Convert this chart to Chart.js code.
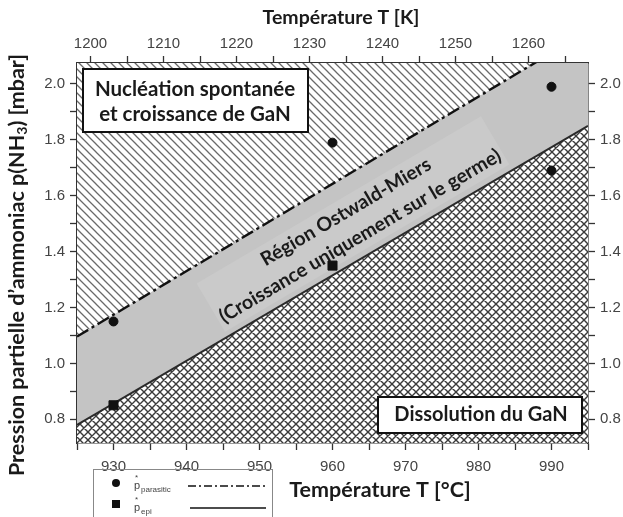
<!DOCTYPE html>
<html>
<head>
<meta charset="utf-8">
<script src="https://cdn.jsdelivr.net/npm/chart.js@4"></script>
<style>
  html, body { margin: 0; padding: 0; background: #fff; }
  #wrap { width: 623px; height: 517px; }
</style>
</head>
<body>
<div id="wrap"><canvas id="myChart" width="623" height="517"></canvas></div>
<script>
// data
const tempCircles = [930, 960, 990, 990]
const pCircles = [1.15, 1.79, 1.99, 1.69]
const tempSquares = [930, 960]
const pSquares = [0.85, 1.35]
const lineTemps = [925, 995]
const parasiticLine = [1.096, 2.189]
const epiLine = [0.78, 1.85]
const tempRange = [925, 995]
const pRange = [0.715, 2.075]
const kelvinTicks = [1200, 1205, 1210, 1215, 1220, 1225, 1230, 1235, 1240, 1245, 1250, 1255, 1260, 1265]
const KELVIN = 273.15

const TITLE_FONT = 'bold 21.5px Lato'
const TICK_FONT = { family: 'Liberation Sans', size: 15 }

function makePattern(cross){
  const s = 8
  const c = document.createElement('canvas')
  c.width = s; c.height = s
  const g = c.getContext('2d')
  g.fillStyle = '#fff'
  g.fillRect(0, 0, s, s)
  g.strokeStyle = cross ? '#3a3a3a' : '#6a6a6a'
  g.lineWidth = cross ? 1.4 : 1.3
  g.beginPath()
  g.moveTo(0, 0); g.lineTo(s, s)
  g.moveTo(-1, s - 1); g.lineTo(1, s + 1)
  g.moveTo(s - 1, -1); g.lineTo(s + 1, 1)
  if (cross){
    g.moveTo(s, 0); g.lineTo(0, s)
    g.moveTo(-1, 1); g.lineTo(1, -1)
    g.moveTo(s - 1, s + 1); g.lineTo(s + 1, s - 1)
  }
  g.stroke()
  return g.createPattern(c, 'repeat')
}

const toPoints = (xs, ys) => xs.map((x, i) => ({ x: x, y: ys[i] }))

function axisStyle(pos, size, pad, labelFn){
  return {
    type: 'linear',
    position: pos,
    ticks: {
      stepSize: pos === 'left' || pos === 'right' ? 0.1 : 5,
      includeBounds: false,
      autoSkip: false,
      maxRotation: 0,
      color: '#444',
      font: TICK_FONT,
      padding: pad,
      callback: labelFn
    },
    grid: { drawOnChartArea: false, drawTicks: true, tickLength: 7, tickColor: '#333', tickWidth: 1.3 },
    border: { color: '#333', width: 1.6 },
    afterFit: (scale) => {
      if (pos === 'left' || pos === 'right') scale.width = size
      else scale.height = size
    }
  }
}

const yLabel = v => Math.round(v * 10) % 2 === 0 ? v.toFixed(1) : ''

const decor = {
  id: 'decor',
  beforeDatasetsDraw(chart){
    const { ctx, chartArea: a } = chart
    ctx.save()
    ctx.fillStyle = '#c4c4c4'
    ctx.fillRect(a.left, a.top, a.right - a.left, a.bottom - a.top)

    // band labels
    ctx.translate(353, 224)
    ctx.rotate(-30.5 * Math.PI / 180)
    ctx.fillStyle = '#cacaca'
    ctx.fillRect(-165, -28, 330, 56)
    ctx.fillStyle = '#1a1a1a'
    ctx.font = 'bold 19.5px Lato'
    ctx.textAlign = 'center'
    ctx.textBaseline = 'middle'
    ctx.fillText('Région Ostwald-Miers', 0, -14)
    ctx.fillText('(Croissance uniquement sur le germe)', 0, 14)
    ctx.restore()
  },
  afterDatasetsDraw(chart){
    const ctx = chart.ctx
    ctx.save()

    // boxes
    ctx.lineWidth = 2
    ctx.strokeStyle = '#111'
    ctx.fillStyle = '#fff'
    ctx.fillRect(83, 69, 225, 63)
    ctx.strokeRect(83, 69, 225, 63)
    ctx.fillRect(378, 397, 204, 36)
    ctx.strokeRect(378, 397, 204, 36)
    ctx.fillStyle = '#1a1a1a'
    ctx.font = 'bold 20.5px Lato'
    ctx.textAlign = 'center'
    ctx.textBaseline = 'middle'
    ctx.fillText('Nucléation spontanée', 195, 89)
    ctx.fillText('et croissance de GaN', 195, 114)
    ctx.font = 'bold 20px Lato'
    ctx.fillText('Dissolution du GaN', 481, 415)

    // axis titles
    ctx.font = 'bold 19.5px Lato'
    ctx.fillText('Température T [K]', 341, 18)
    ctx.font = 'bold 21.5px Lato'
    ctx.fillText('Température T [°C]', 380, 490)

    ctx.save()
    ctx.translate(17, 265)
    ctx.rotate(-Math.PI / 2)
    ctx.textAlign = 'left'
    const partA = 'Pression partielle d’ammoniac p(NH'
    const partB = ') [mbar]'
    ctx.font = TITLE_FONT
    const wA = ctx.measureText(partA).width
    const wB = ctx.measureText(partB).width
    ctx.font = 'bold 14px Lato'
    const w3 = ctx.measureText('3').width
    let x0 = -(wA + w3 + wB) / 2
    ctx.font = TITLE_FONT
    ctx.fillText(partA, x0, 0)
    ctx.font = 'bold 14px Lato'
    ctx.fillText('3', x0 + wA, 5)
    ctx.font = TITLE_FONT
    ctx.fillText(partB, x0 + wA + w3, 0)
    ctx.restore()

    // legend
    ctx.lineWidth = 1
    ctx.strokeStyle = '#888'
    ctx.strokeRect(93.5, 469.5, 179, 60)
    ctx.fillStyle = '#111'
    ctx.beginPath()
    ctx.arc(116, 483, 4, 0, Math.PI * 2)
    ctx.fill()
    ctx.fillRect(112, 500, 8, 8)
    ctx.fillStyle = '#444'
    ctx.textAlign = 'left'
    ctx.font = '11px Liberation Sans'
    ctx.fillText('p', 134, 486)
    ctx.fillText('p', 134, 508)
    ctx.font = '8px Liberation Sans'
    ctx.fillText('*', 135, 478)
    ctx.fillText('*', 135, 500)
    ctx.fillText('parasitic', 141, 490)
    ctx.fillText('epi', 141, 512)
    ctx.strokeStyle = '#111'
    ctx.lineWidth = 1.6
    ctx.setLineDash([8, 3, 2, 3])
    ctx.beginPath(); ctx.moveTo(188, 486); ctx.lineTo(266, 486); ctx.stroke()
    ctx.setLineDash([])
    ctx.beginPath(); ctx.moveTo(190, 508); ctx.lineTo(266, 508); ctx.stroke()

    ctx.restore()
  }
}

const ctx = document.getElementById('myChart')

const xK = axisStyle('top', 63, 3, v => v % 10 === 0 ? v : '')
xK.min = tempRange[0] + KELVIN
xK.max = tempRange[1] + KELVIN
xK.afterBuildTicks = (scale) => { scale.ticks = kelvinTicks.map(v => ({ value: v })) }

new Chart(ctx, {
  data: {
    datasets: [
      {
        type: 'scatter',
        label: 'parasitic',
        order: 0,
        data: toPoints(tempCircles, pCircles),
        xAxisID: 'x', yAxisID: 'y',
        pointStyle: 'circle',
        pointRadius: 4.5,
        backgroundColor: '#111',
        borderColor: '#111'
      },
      {
        type: 'scatter',
        label: 'epi',
        order: 0,
        data: toPoints(tempSquares, pSquares),
        xAxisID: 'x', yAxisID: 'y',
        pointStyle: 'rect',
        pointRadius: 6.4,
        backgroundColor: '#111',
        borderColor: '#111'
      },
      {
        type: 'line',
        label: 'p* parasitic',
        order: 1,
        data: toPoints(lineTemps, parasiticLine),
        xAxisID: 'x', yAxisID: 'y',
        borderColor: '#111',
        borderWidth: 2.4,
        borderDash: [13, 4, 3, 4],
        pointRadius: 0,
        fill: 'end',
        backgroundColor: makePattern(false)
      },
      {
        type: 'line',
        label: 'p* epi',
        order: 2,
        data: toPoints(lineTemps, epiLine),
        xAxisID: 'x', yAxisID: 'y',
        borderColor: '#2a2a2a',
        borderWidth: 2,
        pointRadius: 0,
        fill: 'start',
        backgroundColor: makePattern(true)
      }
    ]
  },
  options: {
    responsive: false,
    animation: false,
    layout: { padding: 0 },
    plugins: { legend: { display: false }, tooltip: { enabled: false } },
    scales: {
      x: Object.assign(axisStyle('bottom', 74, 8, v => v % 10 === 0 ? v : ''), { min: tempRange[0], max: tempRange[1] }),
      xK: xK,
      y: Object.assign(axisStyle('left', 77, 5, yLabel), { min: pRange[0], max: pRange[1] }),
      y2: Object.assign(axisStyle('right', 35, 5, yLabel), { min: pRange[0], max: pRange[1] })
    }
  },
  plugins: [decor]
});
</script>
</body>
</html>
